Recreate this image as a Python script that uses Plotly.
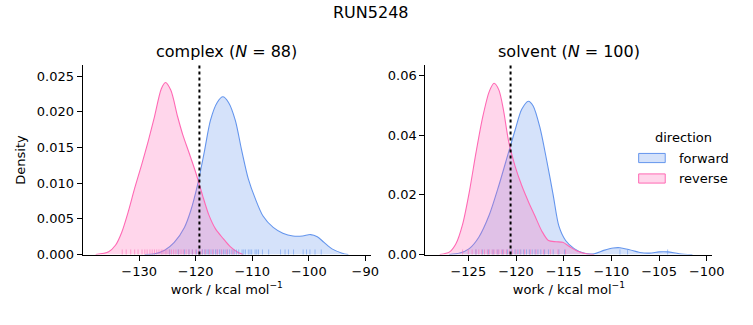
import plotly.graph_objects as go

# ---------------- data ----------------
# complex: KDE curves
cx_fwd_x = [-129.0, -127.3, -125.5, -123.8, -122.0, -120.9, -119.7, -118.5, -117.4, -116.2, -115.2,
            -114.2, -113.0, -111.9, -110.7, -109.5, -108.1, -106.3, -104.6, -102.8, -101.1, -99.7,
            -98.5, -97.3, -95.9, -94.1, -93.0]
cx_fwd_y = [0.0, 0.0001, 0.0006, 0.0017, 0.0038, 0.0061, 0.0097, 0.0143, 0.0188, 0.0213, 0.0221,
            0.0213, 0.0188, 0.0147, 0.0106, 0.0079, 0.0054, 0.0038, 0.0030, 0.0026, 0.0026, 0.0028,
            0.0025, 0.0017, 0.0008, 0.0002, 0.0]
cx_rev_x = [-137.7, -135.4, -134.2, -133.1, -131.9, -130.8, -129.6, -128.4, -127.3, -126.1, -125.35,
            -124.4, -123.2, -122.3, -121.2, -120.0, -118.8, -117.7, -116.5, -115.1, -113.9, -112.7, -111.6]
cx_rev_y = [0.0, 0.0004, 0.0013, 0.0031, 0.0061, 0.0093, 0.0125, 0.0159, 0.0193, 0.0232, 0.0241,
            0.0230, 0.0193, 0.0168, 0.0143, 0.0115, 0.0083, 0.0056, 0.0036, 0.0022, 0.0011, 0.0004, 0.0]

# solvent: KDE curves
sv_fwd_x = [-127.0, -125.9, -124.9, -123.9, -122.8, -121.8, -120.8, -120.1, -119.4, -118.7, -118.2,
            -117.5, -116.8, -116.1, -115.5, -114.8, -113.9, -112.9, -111.8, -110.8, -109.8, -109.1,
            -108.1, -107.0, -106.0, -105.0, -104.1, -102.9, -101.5]
sv_fwd_y = [0.0, 0.0005, 0.0020, 0.0058, 0.0133, 0.0231, 0.0340, 0.0416, 0.0486, 0.0513, 0.0497,
            0.0426, 0.0318, 0.0199, 0.0095, 0.0047, 0.0020, 0.0005, 0.0003, 0.0014, 0.0022, 0.0023,
            0.0016, 0.0007, 0.0005, 0.0009, 0.0009, 0.0003, 0.0]
sv_rev_x = [-128.0, -126.96, -126.3, -125.6, -124.9, -124.2, -123.5, -122.8, -122.3, -121.8, -121.3,
            -120.8, -120.1, -119.4, -118.7, -118.0, -117.3, -116.6, -115.8, -115.1, -114.4, -113.6,
            -112.5, -111.8]
sv_rev_y = [0.0, 0.0009, 0.0036, 0.0101, 0.0209, 0.0340, 0.0459, 0.0546, 0.0573, 0.0551, 0.0481,
            0.0383, 0.0296, 0.0231, 0.0177, 0.0128, 0.0079, 0.0047, 0.0043, 0.0041, 0.0027, 0.0012,
            0.0002, 0.0]

# rug samples (approximate)
cx_rug_fwd = [-124.6, -123.1, -122.0, -121.2, -120.6, -119.9, -119.3, -118.8, -118.4, -118.0, -117.7,
              -117.3, -116.9, -116.5, -116.2, -115.8, -115.5, -115.1, -114.8, -114.4, -114.0, -113.6,
              -113.2, -112.8, -112.4, -111.8, -111.5, -111.2, -110.7, -110.4, -110.1, -109.5, -109.2,
              -108.9, -108.2, -107.1, -105.0, -104.2, -103.6, -102.7, -101.0, -100.4, -99.8, -98.9, -97.8]
cx_rug_rev = [-133.0, -132.3, -131.5, -130.8, -130.2, -129.5, -129.0, -128.6, -128.1, -127.7, -127.3,
              -126.9, -126.5, -126.1, -125.8, -125.4, -125.1, -124.7, -124.3, -123.9, -123.5, -123.0,
              -122.6, -122.2, -121.7, -121.2, -120.6, -120.0, -119.5, -118.9, -118.3, -117.6, -117.0,
              -116.2, -115.4, -114.5, -113.4]
cx_ref = -119.35

sv_rug_fwd = [-124.2, -123.5, -122.9, -122.4, -121.9, -121.4, -120.9, -120.5, -120.1, -119.8, -119.5,
              -119.2, -118.9, -118.6, -118.3, -118.0, -117.7, -117.4, -117.0, -116.6, -116.1, -115.5,
              -114.9, -109.1, -108.3, -104.1]
sv_rug_rev = [-125.6, -125.0, -124.6, -124.2, -123.9, -123.6, -123.3, -123.0, -122.8, -122.5, -122.3,
              -122.0, -121.8, -121.5, -121.3, -121.0, -120.7, -120.4, -120.0, -119.6, -119.1, -118.5,
              -117.9, -117.1, -116.4, -115.6, -114.8]
sv_ref = -120.57

titles = ["complex (<i>N</i> = 88)", "solvent (<i>N</i> = 100)"]
suptitle = "RUN5248"
xlabel = "work / kcal mol<sup>−1</sup>"
ylabel = "Density"
legend_title = "direction"
legend_labels = ["forward", "reverse"]

cx_xticks = [-130, -120, -110, -100, -90]
sv_xticks = [-125, -120, -115, -110, -105, -100]
cx_yticks = [0.0, 0.005, 0.010, 0.015, 0.020, 0.025]
sv_yticks = [0.0, 0.02, 0.04, 0.06]

# ---------------- styling ----------------
W, H = 753, 325
FONT = "DejaVu Sans"
BLUE = "#6495ED"
PINK = "#FF69B4"
BLUE_FILL = "rgba(100,149,237,0.27)"
PINK_FILL = "rgba(255,105,180,0.27)"


def px_x(p):
    return p / W


def px_y(p):
    return 1 - p / H


dom_x1 = [px_x(84), px_x(377)]
dom_x2 = [px_x(432.3), px_x(724)]
dom_y = [px_y(261), px_y(67)]

fig = go.Figure()

panels = [
    ("x", "y", cx_fwd_x, cx_fwd_y, cx_rev_x, cx_rev_y, cx_rug_fwd, cx_rug_rev, cx_ref),
    ("x2", "y2", sv_fwd_x, sv_fwd_y, sv_rev_x, sv_rev_y, sv_rug_fwd, sv_rug_rev, sv_ref),
]

shapes = []
for xa, ya, fx, fy, rx, ry, rugf, rugr, ref in panels:
    fig.add_trace(go.Scatter(x=fx, y=fy, xaxis=xa, yaxis=ya, mode="lines",
                             line=dict(color=BLUE, width=1.1, shape="spline", smoothing=0.8),
                             fill="tozeroy", fillcolor=BLUE_FILL, showlegend=False, hoverinfo="skip"))
    fig.add_trace(go.Scatter(x=rx, y=ry, xaxis=xa, yaxis=ya, mode="lines",
                             line=dict(color=PINK, width=1.1, shape="spline", smoothing=0.8),
                             fill="tozeroy", fillcolor=PINK_FILL, showlegend=False, hoverinfo="skip"))
    for v in rugf:
        shapes.append(dict(type="line", xref=xa, yref=f"{ya} domain", x0=v, x1=v, y0=0, y1=0.027,
                           line=dict(color=BLUE, width=1), opacity=0.55, layer="above"))
    for v in rugr:
        shapes.append(dict(type="line", xref=xa, yref=f"{ya} domain", x0=v, x1=v, y0=0, y1=0.027,
                           line=dict(color=PINK, width=1), opacity=0.55, layer="above"))
    shapes.append(dict(type="line", xref=xa, yref=f"{ya} domain", x0=ref, x1=ref, y0=0, y1=1,
                       line=dict(color="black", width=2, dash="dot"), layer="above"))


def fmt_minus(v):
    s = f"{v:g}"
    return s.replace("-", "−")


axis_common = dict(showline=True, linecolor="black", linewidth=1, ticks="outside", ticklen=5,
                   tickwidth=1, tickcolor="black", showgrid=False, zeroline=False,
                   tickfont=dict(family=FONT, size=13, color="black"))

fig.update_layout(
    width=W, height=H,
    margin=dict(l=0, r=0, t=0, b=0),
    plot_bgcolor="white", paper_bgcolor="white",
    font=dict(family=FONT, color="black", size=13),
    showlegend=False,
    xaxis=dict(domain=dom_x1, range=[-140, -89], anchor="y",
               tickvals=cx_xticks, ticktext=[fmt_minus(v) for v in cx_xticks],
               title=dict(text=xlabel, font=dict(family=FONT, size=13), standoff=6), **axis_common),
    yaxis=dict(domain=dom_y, range=[0, 0.0265], anchor="x",
               tickvals=cx_yticks, ticktext=[f"{v:.3f}" for v in cx_yticks],
               title=dict(text=ylabel, font=dict(family=FONT, size=13), standoff=8), **axis_common),
    xaxis2=dict(domain=dom_x2, range=[-129.5, -99.4], anchor="y2",
                tickvals=sv_xticks, ticktext=[fmt_minus(v) for v in sv_xticks],
                title=dict(text=xlabel, font=dict(family=FONT, size=13), standoff=6), **axis_common),
    yaxis2=dict(domain=dom_y, range=[0, 0.0633], anchor="x2",
                tickvals=sv_yticks, ticktext=[f"{v:.2f}" for v in sv_yticks], **axis_common),
    shapes=shapes,
)

annotations = [
    dict(text=suptitle, x=px_x(377), y=px_y(13), xref="paper", yref="paper", showarrow=False,
         font=dict(family=FONT, size=16), xanchor="center", yanchor="middle"),
    dict(text=titles[0], x=(dom_x1[0] + dom_x1[1]) / 2, y=px_y(53), xref="paper", yref="paper",
         showarrow=False, font=dict(family=FONT, size=16), xanchor="center", yanchor="middle"),
    dict(text=titles[1], x=(dom_x2[0] + dom_x2[1]) / 2, y=px_y(53), xref="paper", yref="paper",
         showarrow=False, font=dict(family=FONT, size=16), xanchor="center", yanchor="middle"),
    dict(text=legend_title, x=px_x(695), y=px_y(141), xref="paper", yref="paper", showarrow=False,
         font=dict(family=FONT, size=13), xanchor="center", yanchor="middle"),
]

# custom legend (patch + label)
leg_rows = [(legend_labels[0], BLUE, BLUE_FILL, 162), (legend_labels[1], PINK, PINK_FILL, 183)]
for label, lc, fc, yc in leg_rows:
    fig.add_shape(type="rect", xref="paper", yref="paper", x0=px_x(649), x1=px_x(676),
                  y0=px_y(yc + 4.7), y1=px_y(yc - 4.7), line=dict(color=lc, width=1), fillcolor=fc)
    annotations.append(dict(text=label, x=px_x(688), y=px_y(yc), xref="paper", yref="paper",
                            showarrow=False, font=dict(family=FONT, size=13),
                            xanchor="left", yanchor="middle"))

fig.update_layout(annotations=annotations)
fig.write_html("out.html")
